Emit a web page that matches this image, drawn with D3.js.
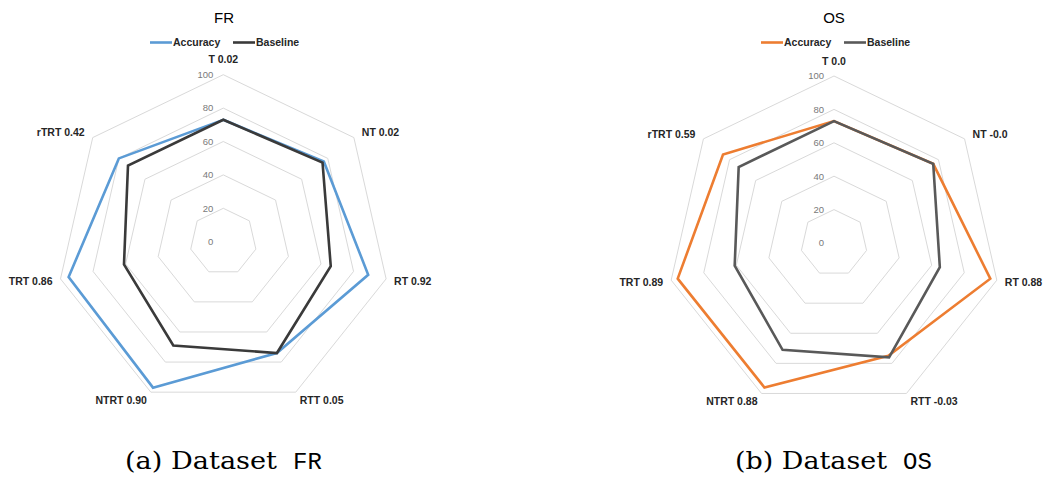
<!DOCTYPE html>
<html>
<head>
<meta charset="utf-8">
<script src="https://cdn.jsdelivr.net/npm/d3@7"></script>
<style>
  html, body { margin: 0; padding: 0; background: #ffffff; }
  svg { display: block; }
</style>
</head>
<body>
<svg id="chart" width="1045" height="478"></svg>
<script>
// ---- data ----
const categories = ["T", "NT", "RT", "RTT", "NTRT", "TRT", "rTRT"];
const frScores = ["0.02", "0.02", "0.92", "0.05", "0.90", "0.86", "0.42"];
const osScores = ["0.0", "-0.0", "0.88", "-0.03", "0.88", "0.89", "0.59"];
const frAccuracy = [73, 77, 89, 74, 97, 95, 80];
const frBaseline = [73, 76, 66, 74, 69, 61, 73];
const osAccuracy = [73, 76, 96, 75, 96, 96, 85];
const osBaseline = [73, 76, 65, 76, 71, 61, 73];
const tickValues = [0, 20, 40, 60, 80, 100];
const seriesNames = ["Accuracy", "Baseline"];

const svg = d3.select("#chart");

function radar(opts) {
  const g = svg.append("g");
  const cx = opts.cx, cy = opts.cy, R = 167;
  const r = d3.scaleLinear().domain([0, 100]).range([0, R]);
  const n = categories.length;
  const ang = d3.scaleLinear().domain([0, n]).range([0, 2 * Math.PI]);
  const pt = (i, v) => [cx + r(v) * Math.sin(ang(i)), cy - r(v) * Math.cos(ang(i))];

  // grid rings
  tickValues.filter(t => t > 0).forEach(t => {
    g.append("path")
      .attr("d", d3.line()(d3.range(n).map(i => pt(i, t))) + "Z")
      .attr("fill", "none").attr("stroke", "#d9d9d9").attr("stroke-width", 1);
  });

  // tick labels
  g.selectAll("text.tick").data(tickValues).join("text")
    .attr("x", cx - 10).attr("y", t => cy - r(t))
    .attr("dy", "0.35em")
    .attr("text-anchor", "end")
    .attr("font-family", "Liberation Sans, Arial, sans-serif")
    .attr("font-size", 9.5).attr("fill", "#7a7a7a")
    .text(t => t);

  // series
  const data = [opts.acc, opts.base];
  const colors = [opts.accColor, opts.baseColor];
  data.forEach((vals, k) => {
    g.append("path")
      .attr("d", d3.line()(vals.map((v, i) => pt(i, v))) + "Z")
      .attr("fill", "none").attr("stroke", colors[k])
      .attr("stroke-width", 2.6).attr("stroke-linejoin", "miter");
  });

  // category labels
  categories.forEach((c, i) => {
    const [x, y] = pt(i, 100);
    const s = Math.sin(ang(i)), co = Math.cos(ang(i));
    let anchor = "middle", tx = x, ty = y;
    if (i === 0) { ty = y - 15; }
    else if (Math.abs(s) > 0.7) {
      anchor = s > 0 ? "start" : "end";
      tx = x + (s > 0 ? 8 : -8);
      ty = y + (co > 0 ? -5 : 2);
    } else {
      anchor = s > 0 ? "start" : "end";
      tx = x + (s > 0 ? 4 : -4);
      ty = y + 8;
    }
    g.append("text")
      .attr("x", tx).attr("y", ty).attr("dy", "0.35em")
      .attr("text-anchor", anchor)
      .attr("font-family", "Liberation Sans, Arial, sans-serif")
      .attr("font-weight", "bold").attr("font-size", 10.5)
      .attr("fill", "#262626")
      .text(c + " " + opts.scores[i]);
  });

  // title
  g.append("text")
    .attr("x", opts.titleX).attr("y", 18).attr("dy", "0.35em")
    .attr("text-anchor", "middle")
    .attr("font-family", "Liberation Sans, Arial, sans-serif")
    .attr("font-size", 15).attr("fill", "#000")
    .text(opts.title);

  // legend
  const lx = opts.legendX, ly = 42.5;
  const lg = g.append("g");
  [0, 1].forEach(k => {
    const x0 = lx + k * 83;
    lg.append("line").attr("x1", x0).attr("x2", x0 + 22)
      .attr("y1", ly).attr("y2", ly)
      .attr("stroke", colors[k]).attr("stroke-width", 2.6);
    lg.append("text").attr("x", x0 + 23).attr("y", ly).attr("dy", "0.35em")
      .attr("font-family", "Liberation Sans, Arial, sans-serif")
      .attr("font-weight", "bold").attr("font-size", 10.5)
      .attr("fill", "#262626")
      .text(seriesNames[k]);
  });

  // caption
  svg.append("text")
    .attr("x", opts.capX).attr("y", 469)
    .attr("font-family", "DejaVu Serif, serif")
    .attr("font-size", 24.5).attr("fill", "#000")
    .attr("textLength", 152).attr("lengthAdjust", "spacingAndGlyphs")
    .text(opts.capLabel + " Dataset");
  svg.append("text")
    .attr("x", opts.capX + 168).attr("y", 469)
    .attr("font-family", "Liberation Mono, DejaVu Sans Mono, monospace")
    .attr("font-size", 24).attr("fill", "#000")
    .text(opts.title);
}

radar({ cx: 223.3, cy: 241.7, acc: frAccuracy, base: frBaseline, scores: frScores,
        accColor: "#5b9bd5", baseColor: "#3a3a3a", title: "FR", titleX: 224,
        legendX: 150, capX: 125, capLabel: "(a)" });
radar({ cx: 834, cy: 243, acc: osAccuracy, base: osBaseline, scores: osScores,
        accColor: "#ed7d31", baseColor: "#595959", title: "OS", titleX: 834,
        legendX: 761, capX: 735, capLabel: "(b)" });
</script>
</body>
</html>
